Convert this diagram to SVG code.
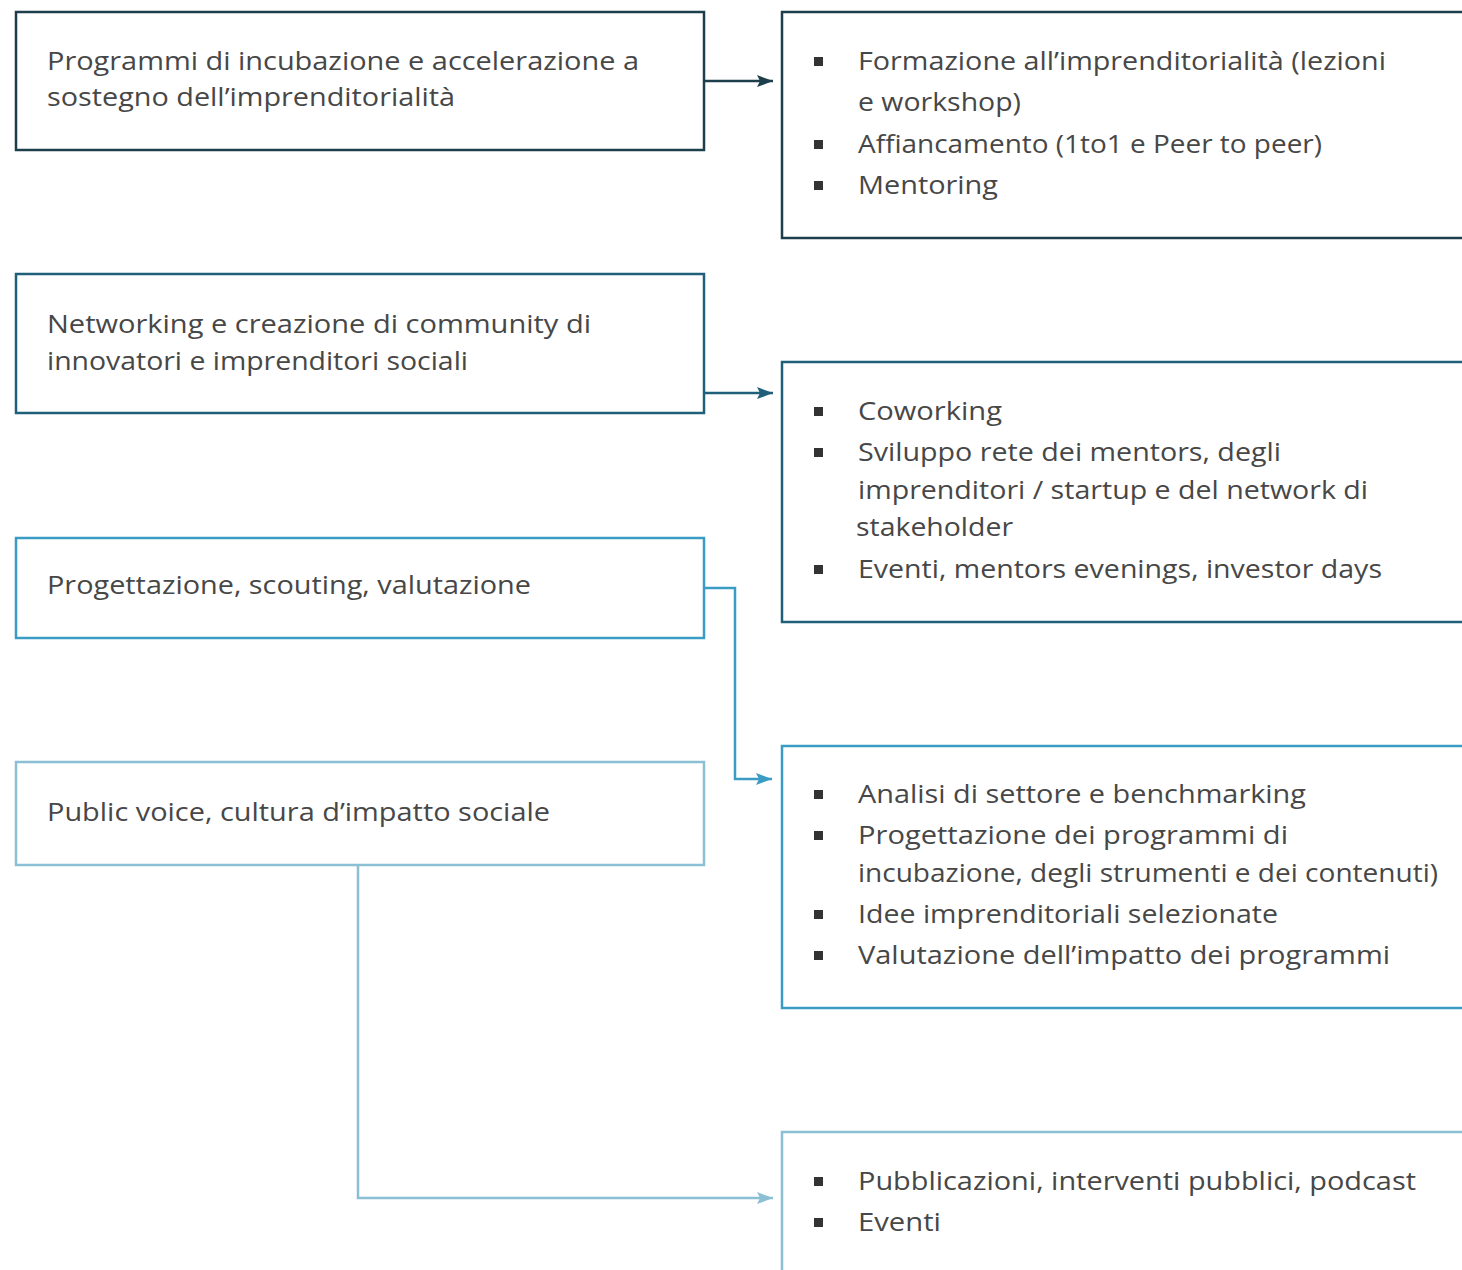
<svg xmlns="http://www.w3.org/2000/svg" width="1462" height="1270" viewBox="0 0 1462 1270">
<defs>
<style>
text{font-family:"Open Sans","Noto Sans","Liberation Sans",sans-serif;font-size:26px;fill:#474747}
.box{fill:#fff;stroke-width:2.5}
.c1{stroke:#1d3f4b}.c2{stroke:#1f5f7a}.c3{stroke:#3a9cc4}.c4{stroke:#8bbfd4}
.bul{fill:#333}
.conn{fill:none;stroke-width:2.5}
</style>
<marker id="m1" viewBox="0 0 16 12" refX="16" refY="6" markerWidth="16" markerHeight="12" markerUnits="userSpaceOnUse" orient="auto"><path d="M0,0 L16,6 L0,12 L3,6 Z" fill="#1d3f4b"/></marker>
<marker id="m2" viewBox="0 0 16 12" refX="16" refY="6" markerWidth="16" markerHeight="12" markerUnits="userSpaceOnUse" orient="auto"><path d="M0,0 L16,6 L0,12 L3,6 Z" fill="#1f5f7a"/></marker>
<marker id="m3" viewBox="0 0 16 12" refX="16" refY="6" markerWidth="16" markerHeight="12" markerUnits="userSpaceOnUse" orient="auto"><path d="M0,0 L16,6 L0,12 L3,6 Z" fill="#3a9cc4"/></marker>
<marker id="m4" viewBox="0 0 16 12" refX="16" refY="6" markerWidth="16" markerHeight="12" markerUnits="userSpaceOnUse" orient="auto"><path d="M0,0 L16,6 L0,12 L3,6 Z" fill="#8bbfd4"/></marker>
</defs>
<rect width="1462" height="1270" fill="#fff"/>
<g id="connectors">
<path class="conn c1" d="M704,81 H773" marker-end="url(#m1)"/>
<path class="conn c2" d="M704,393 H773" marker-end="url(#m2)"/>
<path class="conn c3" d="M704,588 H735 V779 H772" marker-end="url(#m3)"/>
<path class="conn c4" d="M358,865 V1198 H773" marker-end="url(#m4)"/>
</g>
<g id="left1">
<rect class="box c1" x="16" y="12" width="688" height="138"/>
<text x="47" y="70" textLength="592" lengthAdjust="spacingAndGlyphs">Programmi di incubazione e accelerazione a</text>
<text x="47" y="106" textLength="408" lengthAdjust="spacingAndGlyphs">sostegno dell’imprenditorialità</text>
</g>
<g id="left2">
<rect class="box c2" x="16" y="274" width="688" height="139"/>
<text x="47" y="333" textLength="544" lengthAdjust="spacingAndGlyphs">Networking e creazione di community di</text>
<text x="47" y="370" textLength="421" lengthAdjust="spacingAndGlyphs">innovatori e imprenditori sociali</text>
</g>
<g id="left3">
<rect class="box c3" x="16" y="538" width="688" height="100"/>
<text x="47" y="594" textLength="484" lengthAdjust="spacingAndGlyphs">Progettazione, scouting, valutazione</text>
</g>
<g id="left4">
<rect class="box c4" x="16" y="762" width="688" height="103"/>
<text x="47" y="821" textLength="503" lengthAdjust="spacingAndGlyphs">Public voice, cultura d’impatto sociale</text>
</g>
<g id="right1">
<rect class="box c1" x="782" y="12" width="700" height="226"/>
<rect class="bul" x="814" y="57" width="9" height="9"/>
<text x="858" y="70" textLength="528" lengthAdjust="spacingAndGlyphs">Formazione all’imprenditorialità (lezioni</text>
<text x="858" y="111" textLength="163" lengthAdjust="spacingAndGlyphs">e workshop)</text>
<rect class="bul" x="814" y="140" width="9" height="9"/>
<text x="858" y="153" textLength="464" lengthAdjust="spacingAndGlyphs">Affiancamento (1to1 e Peer to peer)</text>
<rect class="bul" x="814" y="181" width="9" height="9"/>
<text x="858" y="194" textLength="140" lengthAdjust="spacingAndGlyphs">Mentoring</text>
</g>
<g id="right2">
<rect class="box c2" x="782" y="362" width="700" height="260"/>
<rect class="bul" x="814" y="407" width="9" height="9"/>
<text x="858" y="420" textLength="144" lengthAdjust="spacingAndGlyphs">Coworking</text>
<rect class="bul" x="814" y="448" width="9" height="9"/>
<text x="858" y="461" textLength="423" lengthAdjust="spacingAndGlyphs">Sviluppo rete dei mentors, degli</text>
<text x="858" y="499" textLength="510" lengthAdjust="spacingAndGlyphs">imprenditori / startup e del network di</text>
<text x="856" y="536" textLength="157" lengthAdjust="spacingAndGlyphs">stakeholder</text>
<rect class="bul" x="814" y="565" width="9" height="9"/>
<text x="858" y="578" textLength="524" lengthAdjust="spacingAndGlyphs">Eventi, mentors evenings, investor days</text>
</g>
<g id="right3">
<rect class="box c3" x="782" y="746" width="700" height="262"/>
<rect class="bul" x="814" y="790" width="9" height="9"/>
<text x="858" y="803" textLength="448" lengthAdjust="spacingAndGlyphs">Analisi di settore e benchmarking</text>
<rect class="bul" x="814" y="831" width="9" height="9"/>
<text x="858" y="844" textLength="430" lengthAdjust="spacingAndGlyphs">Progettazione dei programmi di</text>
<text x="858" y="882" textLength="580" lengthAdjust="spacingAndGlyphs">incubazione, degli strumenti e dei contenuti)</text>
<rect class="bul" x="814" y="910" width="9" height="9"/>
<text x="858" y="923" textLength="420" lengthAdjust="spacingAndGlyphs">Idee imprenditoriali selezionate</text>
<rect class="bul" x="814" y="951" width="9" height="9"/>
<text x="858" y="964" textLength="532" lengthAdjust="spacingAndGlyphs">Valutazione dell’impatto dei programmi</text>
</g>
<g id="right4">
<rect class="box c4" x="782" y="1132" width="700" height="200"/>
<rect class="bul" x="814" y="1177" width="9" height="9"/>
<text x="858" y="1190" textLength="558" lengthAdjust="spacingAndGlyphs">Pubblicazioni, interventi pubblici, podcast</text>
<rect class="bul" x="814" y="1218" width="9" height="9"/>
<text x="858" y="1231" textLength="83" lengthAdjust="spacingAndGlyphs">Eventi</text>
</g>
</svg>
